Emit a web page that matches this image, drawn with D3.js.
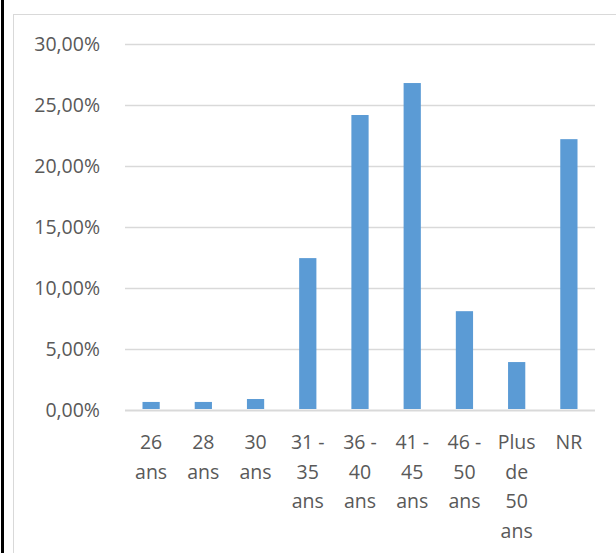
<!DOCTYPE html>
<html>
<head>
<meta charset="utf-8">
<script src="https://cdn.jsdelivr.net/npm/d3@7"></script>
<style>
  body { margin: 0; background: #fff; }
  svg { display: block; }
</style>
</head>
<body>
<svg id="chart"></svg>
<script>
// categories (each line of the wrapped label is a separate entry)
const categories = [
  ["26", "ans"], ["28", "ans"], ["30", "ans"], ["31 -", "35", "ans"],
  ["36 -", "40", "ans"], ["41 -", "45", "ans"], ["46 -", "50", "ans"],
  ["Plus", "de", "50", "ans"], ["NR"]
];
const values = [0.66, 0.66, 0.9, 12.45, 24.18, 26.8, 8.1, 3.93, 22.2];
const yTicks = [0, 5, 10, 15, 20, 25, 30];

const width = 616;
const height = 553;
const margin = { top: 44, right: 21, bottom: 143, left: 125 };

const svg = d3.select("#chart")
  .attr("width", width)
  .attr("height", height);

// frame
svg.append("rect")
  .attr("x", 13.5).attr("y", 14.5)
  .attr("width", width).attr("height", height)
  .attr("fill", "none")
  .attr("stroke", "#d9d9d9");

svg.append("line")
  .attr("x1", 2.5).attr("x2", 2.5)
  .attr("y1", 0).attr("y2", height)
  .attr("stroke", "#000")
  .attr("stroke-width", 3);

const xScale = d3.scaleBand()
  .domain(d3.range(categories.length))
  .range([margin.left, width - margin.right])
  .paddingInner(0.67)
  .paddingOuter(0.335);

const yScale = d3.scaleLinear()
  .domain([0, 30])
  .range([height - margin.bottom, margin.top]);

// gridlines
const yAxis = svg.append("g")
  .attr("transform", `translate(${margin.left},0)`)
  .call(d3.axisLeft(yScale)
    .tickValues(yTicks)
    .tickSize(-(width - margin.left - margin.right))
    .tickPadding(25)
    .tickFormat(d => d3.format(".2f")(d).replace(".", ",") + "%"));

yAxis.select(".domain").remove();
yAxis.selectAll(".tick line")
  .attr("stroke", "#d9d9d9")
  .attr("stroke-width", d => d === 0 ? 2 : 1.3);
yAxis.selectAll(".tick text")
  .attr("fill", "#595959")
  .style("font-family", "'Open Sans', sans-serif")
  .style("font-size", "19.5px");

// bars
svg.selectAll("rect.bar")
  .data(values)
  .enter()
  .append("rect")
  .attr("class", "bar")
  .attr("x", (d, i) => xScale(i))
  .attr("y", d => yScale(d))
  .attr("width", xScale.bandwidth())
  .attr("height", d => yScale(0) - yScale(d) - 1)
  .attr("fill", "#5b9bd5");

// x labels
const labels = svg.selectAll("text.xlab")
  .data(categories)
  .enter()
  .append("text")
  .attr("class", "xlab")
  .attr("text-anchor", "middle")
  .attr("fill", "#595959")
  .style("font-family", "'Open Sans', sans-serif")
  .style("font-size", "19.5px")
  .attr("x", (d, i) => xScale(i) + xScale.bandwidth() / 2)
  .attr("y", 449);

labels.selectAll("tspan")
  .data(d => d)
  .enter()
  .append("tspan")
  .attr("x", function () { return d3.select(this.parentNode).attr("x"); })
  .attr("dy", (d, i) => i === 0 ? 0 : 29.5)
  .text(d => d);
</script>
</body>
</html>
